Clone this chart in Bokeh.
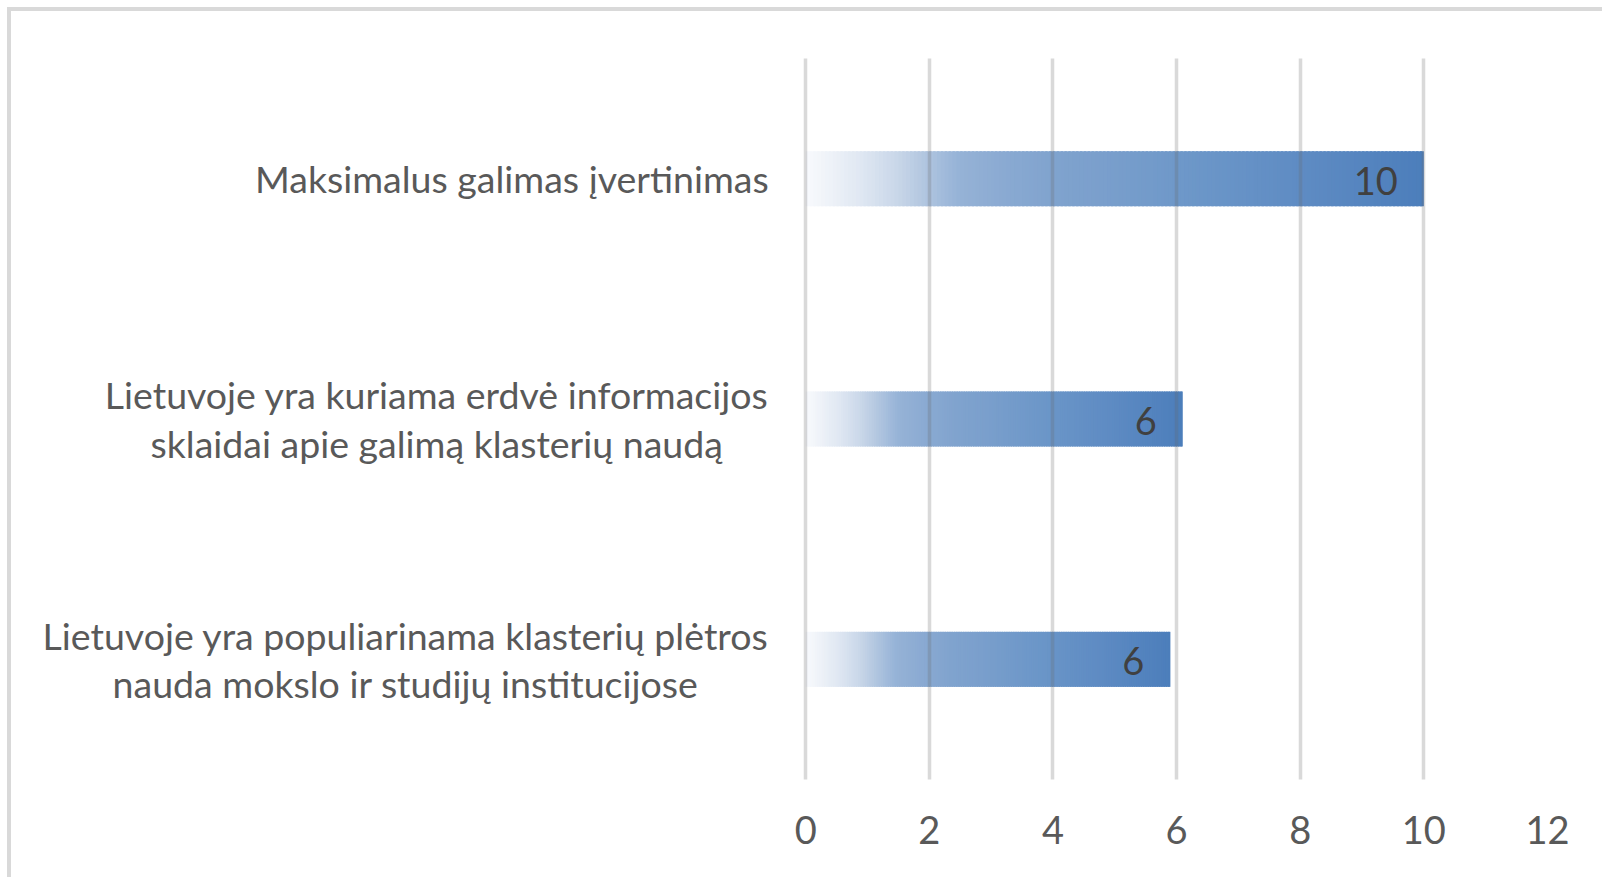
import numpy as np
from bokeh.plotting import figure
from bokeh.models import Range1d, FixedTicker, ColumnDataSource
from bokeh.core.properties import value
from bokeh.embed import file_html
from bokeh.resources import INLINE

# ---- data ----
categories = [
    "Maksimalus galimas įvertinimas",
    "Lietuvoje yra kuriama erdvė informacijos\nsklaidai apie galimą klasterių naudą",
    "Lietuvoje yra populiarinama klasterių plėtros\nnauda mokslo ir studijų institucijose",
]
values = [10, 6.1, 5.9]
x_ticks = [0, 2, 4, 6, 8, 10, 12]

# ---- style ----
FONT = "Lato"
TEXT_COLOR = "#595959"
LABEL_COLOR = "#404040"
grad_pos = [0.0, 0.04, 0.09, 0.15, 0.195, 0.22, 0.25, 0.32, 0.40, 0.48, 0.64, 0.81, 1.0]
grad_col = ["#f8fafd", "#eef2f8", "#dfe7f2", "#c8d6e8", "#b0c5df", "#a3bcdb", "#95b2d6",
            "#8aaad2", "#80a3ce", "#7a9fcc", "#6b96c8", "#5e8bc3", "#4c7ebb"]
N_SLICES = 160
X_LEFT_PAD = -12.83   # room on the left of 0 for the category texts


def hex2rgb(h):
    return np.array([int(h[i:i + 2], 16) for i in (1, 3, 5)], dtype=float)


grad_rgb = np.array([hex2rgb(c) for c in grad_col])


def grad_color(f):
    rgb = [np.interp(f, grad_pos, grad_rgb[:, k]) for k in range(3)]
    return "#%02x%02x%02x" % tuple(int(round(c)) for c in rgb)


n = len(categories)
cat_pos = [n - 1 - i + 0.5 for i in range(n)]   # first category on top

p = figure(
    width=1602, height=877,
    x_range=Range1d(X_LEFT_PAD, x_ticks[-1]),
    y_range=Range1d(0, n),
    output_backend="svg", toolbar_location=None,
    min_border_left=12, min_border_right=55, min_border_top=58, min_border_bottom=98,
)
p.border_fill_color = None
p.background_fill_color = None
p.outline_line_color = None
p.styles = {"box-shadow": "inset 7px 7px 0 #ffffff, inset 11px 11px 0 #d9d9d9"}

# gradient bars built from slices
ys, lefts, rights, cols = [], [], [], []
for yc, v in zip(cat_pos, values):
    for i in range(N_SLICES):
        l = v * i / N_SLICES
        r = min(v, v * (i + 1.6) / N_SLICES)
        ys.append(yc)
        lefts.append(l)
        rights.append(r)
        cols.append(grad_color((i + 0.5) / N_SLICES))
src = ColumnDataSource(dict(y=ys, left=lefts, right=rights, color=cols))
p.hbar(y="y", left="left", right="right", height=0.229, fill_color="color",
       line_color=None, source=src)

# data labels
lab_src = ColumnDataSource(dict(y=cat_pos, x=values,
                                t=["{:.0f}".format(v) for v in values]))
p.text(x="x", y="y", text="t", source=lab_src, x_offset=-26, y_offset=2,
       text_align="right", text_baseline="middle", text_font=value(FONT),
       text_font_size="38px", text_color=LABEL_COLOR)

# category labels: block right-aligned left of 0, lines centred
cat_src = ColumnDataSource(dict(y=cat_pos, x=[0] * n, t=categories))
p.text(x="x", y="y", text="t", source=cat_src, x_offset=-37, anchor="center_right",
       text_align="center", text_baseline="middle", text_font=value(FONT),
       text_font_size="37.5px", text_color=TEXT_COLOR, text_line_height=1.08)

# axes
p.yaxis.visible = False
p.xaxis.ticker = FixedTicker(ticks=x_ticks)
p.xaxis.axis_line_color = None
p.xaxis.major_tick_line_color = None
p.xaxis.minor_tick_line_color = None
p.xaxis.major_label_text_font = FONT
p.xaxis.major_label_text_font_size = "38px"
p.xaxis.major_label_text_color = TEXT_COLOR
p.xaxis.major_label_standoff = 30

p.ygrid.grid_line_color = None
p.xgrid.ticker = FixedTicker(ticks=x_ticks)
p.xgrid.grid_line_color = "#686868"
p.xgrid.grid_line_alpha = 0.25
p.xgrid.grid_line_width = 3.5
p.xgrid.level = "overlay"

open("out.html", "w").write(file_html(p, INLINE))
